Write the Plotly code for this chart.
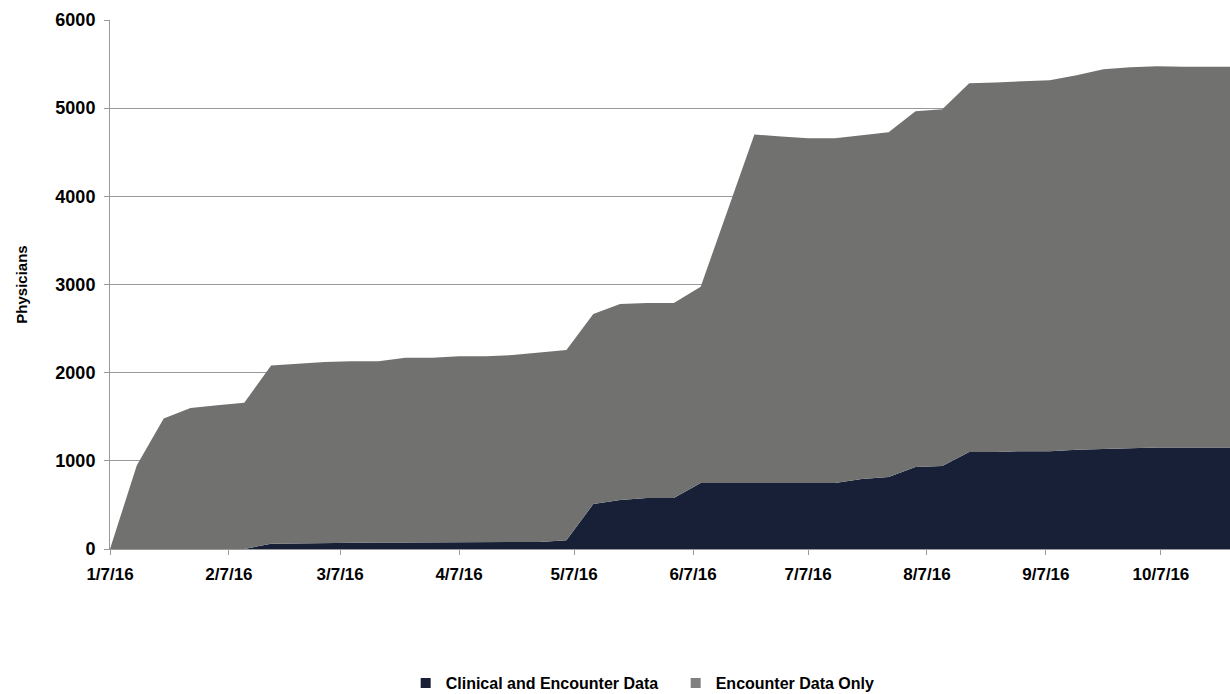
import plotly.graph_objects as go

dates = [
    "2016-01-07", "2016-01-14", "2016-01-21", "2016-01-28", "2016-02-04", "2016-02-11",
    "2016-02-18", "2016-02-25", "2016-03-03", "2016-03-10", "2016-03-17", "2016-03-24",
    "2016-03-31", "2016-04-07", "2016-04-14", "2016-04-21", "2016-04-28", "2016-05-05",
    "2016-05-12", "2016-05-19", "2016-05-26", "2016-06-02", "2016-06-09", "2016-06-16",
    "2016-06-23", "2016-06-30", "2016-07-07", "2016-07-14", "2016-07-21", "2016-07-28",
    "2016-08-04", "2016-08-11", "2016-08-18", "2016-08-25", "2016-09-01", "2016-09-08",
    "2016-09-15", "2016-09-22", "2016-09-29", "2016-10-06", "2016-10-13", "2016-10-20",
    "2016-10-27",
]

clinical_and_encounter = [
    0, 0, 0, 0, 0, 0,
    60, 65, 70, 75, 75, 75,
    75, 75, 75, 80, 80, 100,
    510, 555, 578, 578, 750, 750,
    750, 750, 750, 750, 793, 816,
    930, 941, 1100, 1100, 1110, 1110,
    1125, 1135, 1145, 1150, 1150, 1150,
    1150,
]

total_physicians = [
    0, 950, 1480, 1600, 1630, 1660,
    2080, 2100, 2120, 2130, 2130, 2170,
    2170, 2185, 2185, 2200, 2230, 2256,
    2664, 2778, 2789, 2789, 2975, 3850,
    4700, 4680, 4660, 4660, 4694, 4728,
    4966, 4988, 5283, 5290, 5306, 5317,
    5374, 5442, 5465, 5476, 5470, 5470,
    5470,
]

encounter_only = [t - c for t, c in zip(total_physicians, clinical_and_encounter)]

tick_vals = ["2016-01-07", "2016-02-07", "2016-03-07", "2016-04-07", "2016-05-07",
             "2016-06-07", "2016-07-07", "2016-08-07", "2016-09-07", "2016-10-07"]
tick_text = ["1/7/16", "2/7/16", "3/7/16", "4/7/16", "5/7/16",
             "6/7/16", "7/7/16", "8/7/16", "9/7/16", "10/7/16"]

series_names = ["Clinical and Encounter Data", "Encounter Data Only"]
dark = "#172036"
gray = "#717170"

fig = go.Figure()
fig.add_trace(go.Scatter(
    x=dates, y=clinical_and_encounter, name=series_names[0], mode="lines",
    line=dict(width=0, color=dark), fillcolor=dark, stackgroup="one",
    showlegend=False,
))
fig.add_trace(go.Scatter(
    x=dates, y=encounter_only, name=series_names[1], mode="lines",
    line=dict(width=0, color=gray), fillcolor=gray, stackgroup="one",
    showlegend=False,
))
# legend entries with square swatches
fig.add_trace(go.Scatter(
    x=[None], y=[None], name=series_names[0], mode="markers",
    marker=dict(symbol="square", size=10, color=dark),
))
fig.add_trace(go.Scatter(
    x=[None], y=[None], name=series_names[1], mode="markers",
    marker=dict(symbol="square", size=10, color="#7f7f7f"),
))

fig.update_layout(
    width=1230, height=710,
    margin=dict(l=110, r=0, t=20, b=161),
    paper_bgcolor="white", plot_bgcolor="white",
    font=dict(family="Liberation Sans, Arial, sans-serif", color="black"),
    legend=dict(
        orientation="h", x=0.264, xanchor="left", y=-0.2533, yanchor="middle",
        font=dict(size=16, family="Liberation Sans, Arial, sans-serif", weight="bold"),
        traceorder="normal", itemwidth=30, tracegroupgap=0,
        entrywidth=225, entrywidthmode="pixels",
    ),
    xaxis=dict(
        type="date", range=["2016-01-07", "2016-10-25"],
        tickvals=tick_vals, ticktext=tick_text,
        showgrid=False, showline=True, linecolor="#999999", linewidth=1,
        ticks="outside", ticklen=5, tickcolor="#999999",
        tickfont=dict(size=17, weight="bold"), zeroline=False,
        automargin=False, ticklabelstandoff=5,
    ),
    yaxis=dict(
        range=[0, 6000], tickvals=[0, 1000, 2000, 3000, 4000, 5000, 6000],
        showgrid=True, gridcolor="#999999", gridwidth=1,
        showline=True, linecolor="#999999", linewidth=1,
        ticks="outside", ticklen=5, tickcolor="#999999",
        tickfont=dict(size=18, weight="bold"), zeroline=False,
        automargin=False, ticklabelstandoff=5,
        title=dict(text="Physicians", font=dict(size=15, weight="bold"), standoff=24),
    ),
    showlegend=True,
)

page_fix = (
    "document.body.style.margin='0';"
    "document.body.style.overflow='hidden';"
    "document.documentElement.style.overflow='hidden';"
)

fig.write_html("out.html", post_script=page_fix, config={"displayModeBar": False})
